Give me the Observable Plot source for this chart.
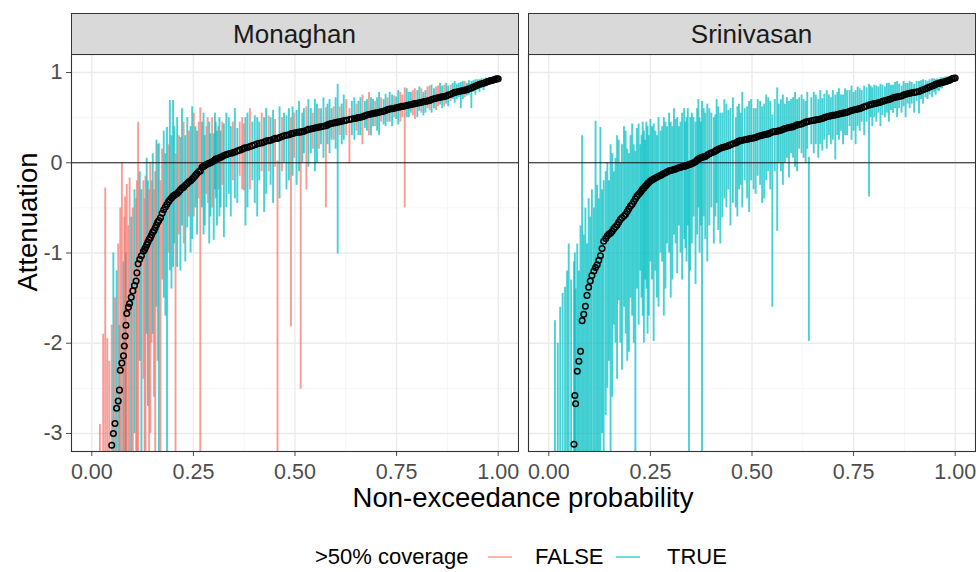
<!DOCTYPE html>
<html>
<head>
<meta charset="utf-8">
<script src="https://cdn.jsdelivr.net/npm/d3@7"></script>
<script src="https://cdn.jsdelivr.net/npm/@observablehq/plot@0.6"></script>
<style>
  body { margin: 0; background: white; }
  #wrap { position: relative; width: 979px; height: 572px; font-family: "Liberation Sans", Arial, sans-serif; background: white; overflow: hidden; }
  .abs { position: absolute; white-space: nowrap; }
  .strip { position: absolute; box-sizing: border-box; background: #D9D9D9; border: 1px solid #333333; color: #1A1A1A; font-size: 26px; display: flex; align-items: center; justify-content: center; }
</style>
</head>
<body>
<div id="wrap"></div>
<script>
// ---- data ----
const facetNames = ["Monaghan", "Srinivasan"];
const xTitleText = "Non-exceedance probability";
const yTitleText = "Attenuation";
const legendTitle = ">50% coverage";
const legendLabels = ["FALSE", "TRUE"];
const legendColors = ["#F8766D", "#00BFC4"];
const xTicks = [0, 0.25, 0.5, 0.75, 1];
const xMinor = [0.125, 0.375, 0.625, 0.875];
const yTicks = [-3, -2, -1, 0, 1];
const yMinor = [-2.5, -1.5, -0.5, 0.5];

// [p, estimate, low, high, coverage>50% (1 = TRUE)]
const monaghan = [
[0.020,-3.9,-4.5,-2.9,0],[0.028,-3.7,-4.5,-1.9,0],[0.033,-3.6,-4.5,-0.28,0],[0.038,-3.5,-4.5,-1.95,0],
[0.043,-3.3,-4.5,-2.2,0],[0.049,-3.13,-4.5,-1.8,0],[0.053,-3.00,-4.5,-1.0,1],[0.057,-2.89,-4.5,-1.5,0],
[0.061,-2.72,-4.5,-1.2,1],[0.065,-2.64,-4.5,-0.9,0],[0.068,-2.52,-4.5,-1.8,1],[0.070,-2.30,-4.5,-0.5,0],
[0.074,-2.22,-4.5,0.0,0],[0.078,-2.14,-4.5,-1.1,1],[0.080,-2.03,-4.5,-0.6,0],[0.082,-1.92,-4.5,-0.38,0],
[0.084,-1.80,-4.5,-1.0,1],[0.086,-1.67,-4.5,-0.24,0],[0.090,-1.60,-4.5,-0.7,0],[0.093,-1.56,-3.5,-0.17,0],
[0.097,-1.49,-4.5,-0.6,1],[0.101,-1.42,-4.5,-0.5,0],[0.105,-1.36,-3.0,-0.3,1],[0.109,-1.31,-4.5,-0.4,0],
[0.111,-1.22,-4.5,-0.2,0],[0.114,-1.12,-4.5,0.45,0],[0.118,-1.07,-2.2,-0.1,1],[0.122,-1.03,-4.5,-0.3,1],
[0.127,-0.98,-2.4,-0.2,0],[0.130,-0.96,-4.5,-0.4,0],[0.132,-0.94,-4.5,-0.15,0],[0.135,-0.91,-1.9,0.05,1],
[0.138,-0.88,-2.7,-0.2,1],[0.141,-0.85,-4.5,-0.3,0],[0.144,-0.83,-3.0,0.0,0],[0.147,-0.80,-2.0,-0.2,0],
[0.150,-0.77,-1.9,0.1,1],[0.153,-0.75,-2.6,-0.3,0],[0.156,-0.72,-4.5,-0.1,0],[0.159,-0.69,-1.6,0.25,1],
[0.162,-0.66,-2.2,0.2,0],[0.165,-0.64,-4.5,0.21,1],[0.169,-0.61,-4.5,-0.2,0],[0.173,-0.56,-1.3,0.15,0],
[0.177,-0.52,-1.5,0.35,1],[0.181,-0.49,-1.7,0.1,1],[0.185,-0.46,-4.5,0.39,1],[0.189,-0.43,-1.0,0.2,0],
[0.192,-0.41,-1.2,0.69,1],[0.196,-0.39,-1.4,0.3,1],[0.200,-0.37,-1.16,0.69,1],[0.203,-0.36,-0.9,0.4,1],
[0.206,-0.35,-4.5,0.1,0],[0.210,-0.34,-1.16,0.5,1],[0.214,-0.32,-0.8,0.3,0],[0.218,-0.30,-1.2,0.28,1],
[0.222,-0.28,-0.7,0.6,1],[0.226,-0.27,-0.9,0.45,0],[0.230,-0.25,-1.1,0.3,1],[0.235,-0.23,-0.72,0.50,1],
[0.239,-0.21,-0.6,0.35,0],[0.243,-0.20,-1.0,0.4,1],[0.247,-0.18,-0.85,0.62,1],[0.251,-0.16,-0.6,0.55,0],
[0.255,-0.14,-0.5,0.4,1],[0.259,-0.12,-0.8,0.35,1],[0.263,-0.10,-0.4,0.45,0],[0.267,-0.09,-4.5,0.61,0],
[0.271,-0.05,-0.5,0.45,1],[0.275,-0.04,-0.8,0.55,1],[0.278,-0.03,-0.7,0.3,1],[0.282,-0.02,-0.35,0.4,0],
[0.285,-0.01,-0.45,0.5,0],[0.289,-0.005,-0.9,0.45,1],[0.292,0.00,-0.6,0.32,1],[0.296,0.01,-0.5,0.5,0],
[0.300,0.02,-0.86,0.32,1],[0.303,0.03,-0.3,0.55,1],[0.305,0.04,-0.4,0.45,1],[0.308,0.045,-0.7,0.35,1],
[0.311,0.05,-0.3,0.4,0],[0.314,0.055,-0.6,0.5,1],[0.317,0.06,-0.5,0.35,1],[0.321,0.07,-0.25,0.45,0],
[0.325,0.08,-0.83,0.43,1],[0.331,0.09,-0.5,0.55,1],[0.337,0.10,-0.35,0.5,1],[0.342,0.105,-0.6,0.4,1],
[0.347,0.11,-0.2,0.45,0],[0.352,0.12,-0.4,0.6,1],[0.358,0.13,-0.45,0.38,1],[0.364,0.14,-0.15,0.45,0],
[0.370,0.15,-0.3,0.5,0],[0.374,0.16,-0.31,0.43,0],[0.378,0.165,-0.7,0.5,1],[0.383,0.17,-0.5,0.55,1],
[0.389,0.18,-0.3,0.6,0],[0.395,0.19,-0.2,0.45,1],[0.401,0.20,-0.45,0.52,1],[0.407,0.21,-0.6,0.5,1],
[0.412,0.215,-0.2,0.45,1],[0.418,0.22,-0.1,0.55,0],[0.424,0.23,-0.55,0.5,1],[0.429,0.24,-0.35,0.6,1],
[0.435,0.245,-0.1,0.52,0],[0.440,0.25,-0.25,0.5,1],[0.446,0.26,-0.45,0.58,1],[0.451,0.27,-0.05,0.48,0],
[0.457,0.27,-4.5,0.02,0],[0.462,0.28,-0.4,0.62,1],[0.468,0.29,-0.1,0.5,0],[0.473,0.30,0.0,0.55,1],
[0.479,0.305,-0.3,0.52,1],[0.485,0.31,-0.2,0.6,1],[0.490,0.32,-1.82,0.50,0],[0.494,0.325,-0.15,0.62,1],
[0.498,0.33,0.05,0.55,0],[0.504,0.335,-0.25,0.58,1],[0.510,0.34,-0.1,0.68,1],[0.514,0.34,-2.51,0.30,0],
[0.518,0.345,0.0,0.55,1],[0.522,0.35,0.1,0.6,1],[0.528,0.36,-0.3,0.62,0],[0.533,0.37,-0.05,0.7,1],
[0.539,0.375,0.1,0.6,1],[0.544,0.38,0.15,0.55,0],[0.549,0.385,-0.1,0.7,1],[0.554,0.39,0.0,0.65,1],
[0.559,0.395,0.15,0.6,0],[0.564,0.40,0.2,0.6,1],[0.570,0.405,0.05,0.72,1],[0.576,0.41,-0.5,0.61,0],
[0.580,0.42,0.2,0.65,1],[0.585,0.43,0.1,0.7,1],[0.590,0.435,0.25,0.6,1],[0.595,0.44,0.25,0.62,0],
[0.600,0.445,0.15,0.72,1],[0.605,0.45,-1.01,0.87,1],[0.610,0.455,0.3,0.62,0],[0.615,0.46,0.2,0.65,1],
[0.620,0.465,0.25,0.75,1],[0.626,0.47,0.3,0.7,0],[0.634,0.48,-0.01,0.6,0],[0.640,0.485,0.3,0.68,1],
[0.646,0.49,0.25,0.72,1],[0.651,0.495,0.35,0.65,0],[0.656,0.50,0.3,0.68,1],[0.661,0.505,0.3,0.72,1],
[0.666,0.51,0.2,0.75,0],[0.672,0.52,0.38,0.68,1],[0.677,0.53,0.35,0.7,1],[0.682,0.535,0.3,0.78,0],
[0.687,0.54,0.3,0.72,1],[0.692,0.545,0.4,0.7,1],[0.697,0.55,0.4,0.68,0],[0.702,0.555,0.35,0.72,1],
[0.707,0.56,0.3,0.78,1],[0.712,0.565,0.45,0.72,0],[0.718,0.57,0.42,0.7,1],[0.723,0.58,0.4,0.76,1],
[0.728,0.59,0.45,0.72,0],[0.733,0.595,0.45,0.78,1],[0.739,0.60,0.4,0.75,1],[0.744,0.605,0.5,0.74,0],
[0.749,0.61,0.48,0.73,1],[0.754,0.615,0.42,0.8,1],[0.759,0.62,0.45,0.78,0],[0.764,0.625,0.5,0.75,0],
[0.770,0.63,-0.5,0.83,0],[0.775,0.635,0.5,0.82,1],[0.780,0.64,0.5,0.78,1],[0.785,0.645,0.55,0.78,1],
[0.790,0.65,0.52,0.8,0],[0.795,0.655,0.48,0.82,0],[0.801,0.66,0.5,0.8,1],[0.806,0.665,0.57,0.84,1],
[0.811,0.67,0.55,0.82,0],[0.816,0.675,0.52,0.78,1],[0.821,0.68,0.55,0.8,1],[0.826,0.685,0.6,0.84,0],
[0.831,0.69,0.58,0.85,0],[0.836,0.70,0.55,0.86,1],[0.842,0.71,0.6,0.82,1],[0.847,0.715,0.58,0.84,0],
[0.852,0.72,0.62,0.85,0],[0.857,0.725,0.64,0.88,1],[0.862,0.73,0.6,0.85,1],[0.867,0.735,0.62,0.86,0],
[0.872,0.74,0.65,0.88,1],[0.877,0.75,0.62,0.85,1],[0.883,0.76,0.68,0.86,0],[0.888,0.77,0.7,0.88,1],
[0.893,0.78,0.66,0.9,1],[0.898,0.785,0.7,0.87,1],[0.903,0.79,0.72,0.88,1],[0.908,0.795,0.6,0.89,1],
[0.913,0.80,0.7,0.9,1],[0.918,0.805,0.72,0.9,0],[0.923,0.81,0.74,0.88,1],[0.928,0.82,0.75,0.91,1],
[0.934,0.83,0.6,0.9,1],[0.939,0.84,0.78,0.91,1],[0.944,0.85,0.75,0.92,1],[0.949,0.86,0.8,0.92,1],
[0.954,0.87,0.78,0.92,1],[0.959,0.875,0.82,0.93,1],[0.964,0.88,0.8,0.93,1],[0.969,0.89,0.84,0.94,1],
[0.974,0.90,0.85,0.93,1],[0.978,0.905,0.86,0.94,1],[0.982,0.91,0.87,0.94,1],[0.986,0.915,0.89,0.94,1],
[0.990,0.92,0.9,0.94,1],[0.993,0.925,0.91,0.945,1],[0.996,0.93,0.92,0.94,1],[1.000,0.93,0.92,0.94,1]
];

const srinivasan = [
[0.015,-3.9,-4.5,-1.75,1],[0.022,-3.8,-4.5,-2.0,1],[0.028,-3.7,-4.5,-1.6,1],[0.034,-3.6,-4.5,-1.45,1],
[0.040,-3.5,-4.5,-1.38,1],[0.045,-3.4,-4.5,-1.2,1],[0.049,-3.3,-4.5,-0.9,1],[0.055,-3.25,-4.5,-1.3,1],
[0.062,-3.12,-4.5,-1.1,1],[0.064,-2.58,-4.5,-1.0,1],[0.066,-2.67,-4.5,-1.4,1],[0.070,-2.31,-4.5,-0.9,1],
[0.074,-2.20,-4.5,-1.2,1],[0.078,-2.09,-4.5,-0.7,1],[0.082,-1.75,-4.5,0.30,1],[0.086,-1.68,-4.5,-0.8,1],
[0.090,-1.59,-4.5,-0.5,1],[0.094,-1.47,-4.5,-0.9,1],[0.098,-1.38,-4.5,-0.4,1],[0.102,-1.31,-4.5,-0.6,1],
[0.106,-1.25,-4.5,-0.3,1],[0.111,-1.20,-4.5,-0.5,1],[0.115,-1.16,-4.5,0.46,1],[0.119,-1.13,-4.5,-0.25,1],
[0.123,-1.08,-4.5,-0.4,1],[0.127,-1.03,-4.5,0.39,1],[0.131,-0.95,-3.0,-0.3,1],[0.135,-0.87,-4.5,-0.2,1],
[0.140,-0.84,-2.8,-0.1,1],[0.144,-0.81,-2.5,0.0,1],[0.148,-0.79,-2.2,-0.2,1],[0.152,-0.78,-4.5,0.2,1],
[0.156,-0.76,-2.6,0.1,1],[0.160,-0.73,-1.8,-0.1,1],[0.164,-0.71,-2.0,0.05,1],[0.168,-0.69,-2.4,0.3,1],
[0.172,-0.66,-1.53,0.25,1],[0.176,-0.63,-2.0,0.0,1],[0.180,-0.61,-2.3,0.2,1],[0.185,-0.59,-1.6,0.4,1],
[0.189,-0.57,-1.9,0.35,1],[0.193,-0.54,-2.2,0.15,1],[0.197,-0.51,-2.1,0.1,1],[0.201,-0.48,-1.5,0.3,1],
[0.205,-0.46,-1.7,0.43,1],[0.209,-0.43,-2.0,0.2,1],[0.213,-0.40,-4.5,0.13,1],[0.217,-0.37,-1.4,0.38,1],
[0.221,-0.35,-1.8,0.43,1],[0.225,-0.33,-1.2,0.2,1],[0.228,-0.31,-1.5,0.3,1],[0.231,-0.29,-1.7,0.45,1],
[0.234,-0.28,-2.0,0.35,1],[0.237,-0.26,-1.3,0.25,1],[0.240,-0.25,-1.4,0.45,1],[0.243,-0.23,-1.9,0.4,1],
[0.246,-0.22,-1.7,0.3,1],[0.250,-0.20,-1.1,0.48,1],[0.254,-0.19,-1.3,0.4,1],[0.258,-0.18,-1.98,0.43,1],
[0.262,-0.17,-1.2,0.35,1],[0.266,-0.16,-1.5,0.3,1],[0.270,-0.15,-1.6,0.5,1],[0.275,-0.14,-1.0,0.35,1],
[0.279,-0.13,-1.1,0.4,1],[0.283,-0.12,-1.7,0.5,1],[0.287,-0.11,-1.4,0.45,1],[0.291,-0.10,-0.9,0.4,1],
[0.296,-0.09,-1.0,0.55,1],[0.300,-0.085,-1.5,0.45,1],[0.304,-0.08,-1.3,0.4,1],[0.308,-0.075,-0.8,0.6,1],
[0.312,-0.07,-0.9,0.48,1],[0.316,-0.06,-1.23,0.5,1],[0.320,-0.055,-0.7,0.4,1],[0.324,-0.05,-1.0,0.45,1],
[0.328,-0.045,-1.3,0.55,1],[0.333,-0.04,-0.85,0.6,1],[0.336,-0.035,-0.95,0.45,1],[0.339,-0.03,-1.1,0.5,1],
[0.342,-0.025,-0.7,0.6,1],[0.345,-0.02,-4.5,0.0,1],[0.348,-0.015,-1.2,0.5,1],[0.352,-0.01,-0.9,0.55,1],
[0.356,0.0,-0.6,0.5,1],[0.361,0.01,-1.35,0.45,1],[0.365,0.03,-0.8,0.6,1],[0.368,0.04,-0.5,0.7,1],
[0.371,0.05,-1.0,0.5,1],[0.374,0.055,-0.7,0.45,1],[0.377,0.06,-4.5,0.68,1],[0.381,0.065,-0.6,0.6,1],
[0.385,0.07,-0.85,0.55,1],[0.390,0.085,-1.1,0.65,1],[0.395,0.10,-0.7,0.6,1],[0.400,0.11,-0.5,0.55,1],
[0.406,0.12,-0.9,0.5,1],[0.410,0.13,-0.6,0.53,1],[0.413,0.14,-0.45,0.7,1],[0.417,0.15,-0.75,0.62,1],
[0.422,0.16,-0.9,0.55,1],[0.427,0.17,-0.61,0.55,1],[0.432,0.175,-0.4,0.7,1],[0.437,0.18,-0.5,0.65,1],
[0.442,0.19,-0.3,0.58,1],[0.447,0.20,-0.7,0.6,1],[0.453,0.21,-0.45,0.72,1],[0.460,0.22,-0.5,0.5,1],
[0.464,0.23,-0.6,0.62,1],[0.468,0.24,-0.3,0.65,1],[0.472,0.245,-0.25,0.55,1],[0.476,0.25,-0.5,0.78,1],
[0.482,0.255,-0.2,0.6,1],[0.488,0.26,-0.4,0.62,1],[0.493,0.265,-0.55,0.68,1],[0.498,0.27,-0.2,0.7,1],
[0.504,0.275,-0.3,0.6,1],[0.509,0.28,-0.35,0.6,1],[0.514,0.29,-0.15,0.7,1],[0.520,0.30,-0.25,0.68,1],
[0.525,0.305,-0.45,0.62,1],[0.530,0.31,-0.4,0.65,1],[0.535,0.315,-0.2,0.75,1],[0.540,0.32,-0.1,0.72,1],
[0.545,0.33,-0.3,0.68,1],[0.550,0.34,-1.6,0.53,1],[0.556,0.345,-0.1,0.7,1],[0.562,0.35,-0.76,0.83,1],
[0.566,0.355,0.0,0.65,1],[0.571,0.36,-0.1,0.7,1],[0.576,0.37,-0.25,0.75,1],[0.581,0.38,0.0,0.65,1],
[0.586,0.385,0.05,0.72,1],[0.591,0.39,-0.17,0.68,1],[0.596,0.395,0.1,0.7,1],[0.601,0.40,0.05,0.72,1],
[0.606,0.41,-0.05,0.78,1],[0.611,0.42,-0.1,0.7,1],[0.616,0.425,0.15,0.72,1],[0.622,0.43,0.1,0.75,1],
[0.627,0.44,0.05,0.7,1],[0.632,0.45,0.0,0.68,1],[0.636,0.455,0.15,0.78,1],[0.640,0.46,-1.98,0.06,1],
[0.646,0.465,0.2,0.72,1],[0.652,0.47,0.1,0.78,1],[0.657,0.475,0.2,0.75,1],[0.663,0.48,0.05,0.7,1],
[0.668,0.485,0.2,0.8,1],[0.673,0.49,0.13,0.71,1],[0.678,0.50,0.25,0.76,1],[0.684,0.51,0.15,0.8,1],
[0.689,0.515,0.3,0.75,1],[0.694,0.52,0.2,0.72,1],[0.699,0.525,0.25,0.8,1],[0.705,0.53,0.03,0.75,1],
[0.710,0.535,0.3,0.78,1],[0.714,0.54,0.25,0.82,1],[0.719,0.545,0.35,0.75,1],[0.724,0.55,0.2,0.75,1],
[0.729,0.555,0.3,0.82,1],[0.734,0.56,0.3,0.8,1],[0.740,0.57,0.4,0.8,1],[0.745,0.58,0.25,0.85,1],
[0.750,0.585,0.35,0.78,1],[0.755,0.59,0.2,0.8,1],[0.760,0.595,0.4,0.84,1],[0.765,0.60,0.35,0.82,1],
[0.770,0.61,0.45,0.8,1],[0.776,0.62,0.3,0.85,1],[0.782,0.63,0.45,0.83,1],[0.788,0.64,-0.38,0.87,1],
[0.792,0.645,0.5,0.85,1],[0.796,0.65,0.4,0.83,1],[0.801,0.655,0.5,0.86,1],[0.806,0.66,0.45,0.85,1],
[0.811,0.665,0.55,0.84,1],[0.816,0.67,0.4,0.87,1],[0.821,0.68,0.52,0.86,1],[0.827,0.69,0.5,0.84,1],
[0.832,0.695,0.55,0.88,1],[0.837,0.70,0.45,0.88,1],[0.842,0.71,0.58,0.86,1],[0.847,0.72,0.55,0.86,1],
[0.852,0.725,0.6,0.89,1],[0.857,0.73,0.5,0.9,1],[0.862,0.735,0.6,0.87,1],[0.868,0.74,0.55,0.85,1],
[0.873,0.75,0.62,0.9,1],[0.878,0.76,0.5,0.88,1],[0.883,0.765,0.65,0.88,1],[0.888,0.77,0.6,0.9,1],
[0.893,0.775,0.65,0.89,1],[0.899,0.78,0.55,0.87,1],[0.905,0.785,0.68,0.9,1],[0.911,0.79,0.54,0.9,1],
[0.916,0.80,0.7,0.91,1],[0.921,0.81,0.65,0.92,1],[0.927,0.82,0.72,0.91,1],[0.932,0.83,0.7,0.9,1],
[0.937,0.84,0.75,0.92,1],[0.943,0.85,0.72,0.93,1],[0.948,0.86,0.78,0.93,1],[0.952,0.87,0.75,0.92,1],
[0.956,0.875,0.8,0.93,1],[0.960,0.88,0.79,0.92,1],[0.964,0.885,0.82,0.94,1],[0.968,0.89,0.82,0.94,1],
[0.972,0.895,0.85,0.94,1],[0.976,0.90,0.85,0.95,1],[0.980,0.905,0.87,0.95,1],[0.984,0.91,0.88,0.95,1],
[0.988,0.92,0.89,0.95,1],[0.992,0.93,0.9,0.95,1],[0.996,0.935,0.91,0.96,1],[1.000,0.94,0.92,0.96,1]
];

// ---- layout ----
const wrap = document.getElementById("wrap");
const FONT = '"Liberation Sans", Arial, sans-serif';
const panelTop = 54, panelBottom = 451;
const panels = [
  {name: facetNames[0], rows: monaghan, left: 71, right: 518, yAxis: true},
  {name: facetNames[1], rows: srinivasan, left: 528, right: 975, yAxis: false}
];
const svgHeight = 486;

function toObjs(rows) {
  return rows.map(r => ({p: r[0], est: r[1], lo: r[2], hi: r[3], cov: r[4] ? "TRUE" : "FALSE"}));
}

for (const pn of panels) {
  const data = toObjs(pn.rows);
  const svgLeft = pn.yAxis ? 0 : pn.left - 1;
  const mL = pn.left - svgLeft;
  const w = pn.right - svgLeft + 1;
  const chart = Plot.plot({
    width: w,
    height: svgHeight,
    marginLeft: mL,
    marginRight: 1,
    marginTop: panelTop,
    marginBottom: svgHeight - panelBottom,
    style: {fontFamily: FONT, fontSize: "21.5px", color: "#4D4D4D", background: "transparent"},
    x: {domain: [-0.05, 1.05], ticks: xTicks, tickFormat: d3.format(".2f"), tickSize: 5, tickPadding: 7, label: null},
    y: pn.yAxis
      ? {domain: [-3.2, 1.2], ticks: yTicks, tickFormat: d => String(d), tickSize: 5, tickPadding: 4, label: null}
      : {domain: [-3.2, 1.2], axis: null},
    color: {domain: legendLabels, range: legendColors},
    marks: [
      Plot.ruleX(xMinor, {stroke: "#F2F2F2", strokeWidth: 0.8}),
      Plot.ruleY(yMinor, {stroke: "#F2F2F2", strokeWidth: 0.8}),
      Plot.ruleX(xTicks, {stroke: "#EBEBEB", strokeWidth: 1.4}),
      Plot.ruleY(yTicks, {stroke: "#EBEBEB", strokeWidth: 1.4}),
      Plot.ruleX(data, {x: "p", y1: "lo", y2: "hi", stroke: "cov", strokeWidth: 1.9, strokeOpacity: 0.72, clip: true}),
      Plot.ruleY([0], {stroke: "#1a1a1a", strokeWidth: 1.2}),
      Plot.dot(data, {x: "p", y: "est", r: 2.8, stroke: "black", fill: "none", strokeWidth: 1.5, clip: true}),
      Plot.frame({stroke: "#333333", strokeWidth: 1.1})
    ]
  });
  chart.style.position = "absolute";
  chart.style.left = svgLeft + "px";
  chart.style.top = "0px";
  wrap.appendChild(chart);

  const strip = document.createElement("div");
  strip.className = "strip";
  strip.style.left = (pn.left - 0.5) + "px";
  strip.style.top = "13px";
  strip.style.width = (pn.right - pn.left + 1) + "px";
  strip.style.height = (panelTop - 12) + "px";
  strip.textContent = pn.name;
  wrap.appendChild(strip);
}

function addText(txt, style) {
  const el = document.createElement("div");
  el.className = "abs";
  el.textContent = txt;
  Object.assign(el.style, style);
  wrap.appendChild(el);
  return el;
}

// axis titles
addText(yTitleText, {left: "28px", top: "222px", transform: "translate(-50%,-50%) rotate(-90deg)", fontSize: "27.5px", color: "#000"});
addText(xTitleText, {left: "523px", top: "498px", transform: "translate(-50%,-50%)", fontSize: "27.5px", color: "#000"});

// legend
const legendY = 557;
addText(legendTitle, {left: "315px", top: legendY + "px", transform: "translateY(-50%)", fontSize: "22px", color: "#000"});
const keyX = [488, 616];
const labX = [535, 667];
legendLabels.forEach((lab, i) => {
  const key = document.createElement("div");
  key.className = "abs";
  Object.assign(key.style, {left: keyX[i] + "px", top: (legendY - 1) + "px", width: "24px", height: "2px", background: legendColors[i], opacity: "0.55"});
  wrap.appendChild(key);
  addText(lab, {left: labX[i] + "px", top: legendY + "px", transform: "translateY(-50%)", fontSize: "22px", color: "#000"});
});
</script>
</body>
</html>
